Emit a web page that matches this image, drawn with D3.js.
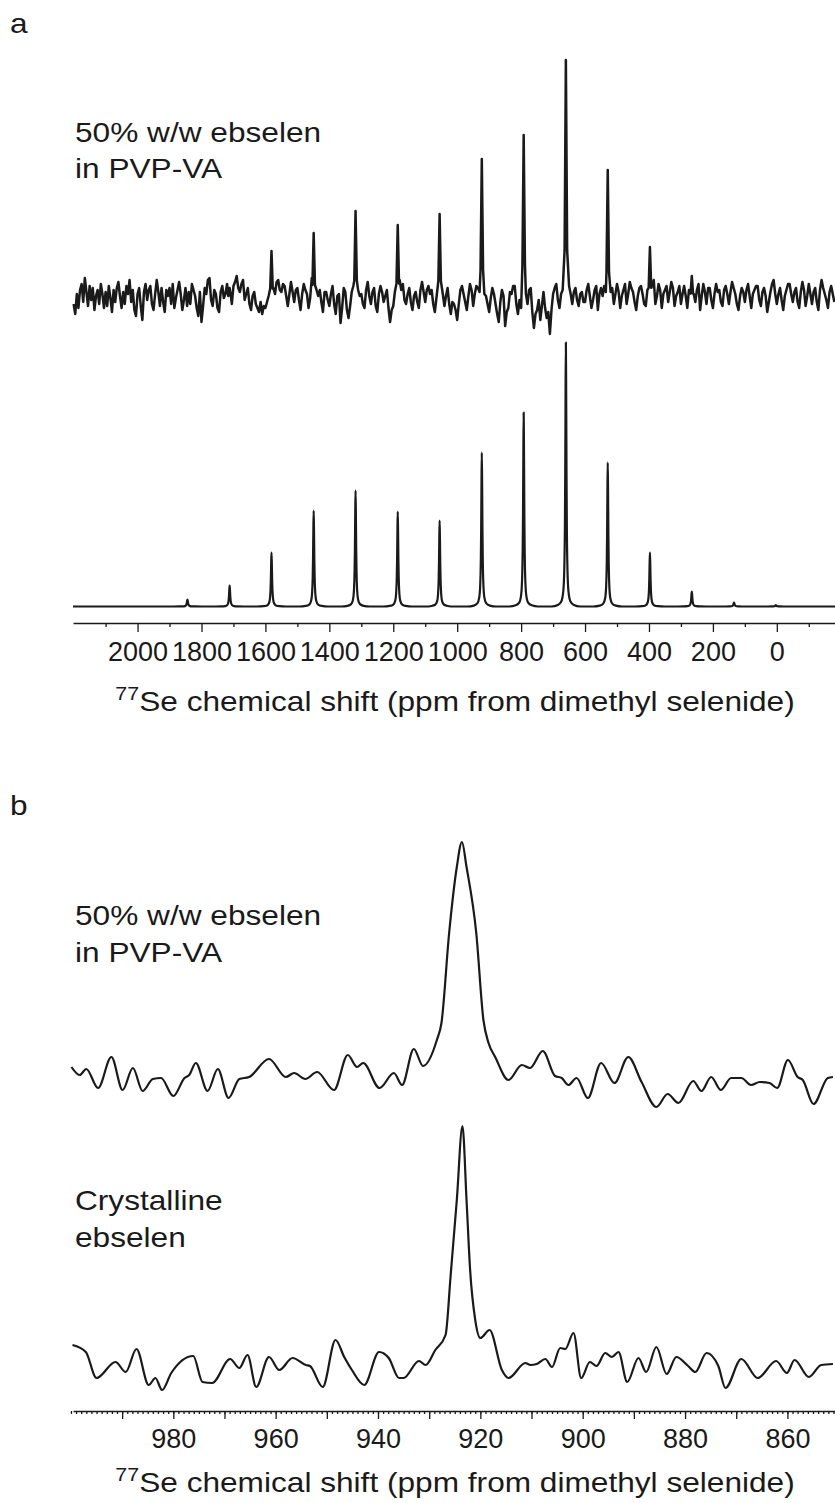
<!DOCTYPE html>
<html>
<head>
<meta charset="utf-8">
<script src="https://cdn.jsdelivr.net/npm/d3@7"></script>
<style>
  html, body { margin: 0; padding: 0; background: #fff; }
  svg { display: block; }
  text { font-family: "Liberation Sans", Arial, Helvetica, sans-serif; fill: #1a1a1a; }
</style>
</head>
<body>
<svg id="fig" width="835" height="1503"></svg>
<script>
// ---- panel a: 77Se MAS spectrum, 50% ebselen in PVP-VA (5 ppm grid, arbitrary units)
const expNoiseStart = 2200;
const expNoiseStep = 5;
const expNoise = [
  -6, -16, 4, -10, 8, 14, -4, 20, 6, -8, 12, -2, 10, -12, 2, 8, -6, 14, 4, -10,
  6, -8, 12, 0, -14, 8, -4, 10, 16, 2, -10, 6, -6, 12, 4, 18, -4, 8, -12, -18,
  4, 10, -8, -22, 6, 14, -2, 8, 12, -6, -12, 4, 18, 6, -8, 10, -4, -14, 8, 2,
  10, -6, 14, -10, 0, 8, 16, 4, -12, -2, 10, -8, 6, -6, 14, 8, 2, -10, -18, 6,
  -24, -8, 10, 4, 18, 20, -2, -8, 8, 4, -10, -14, 6, 12, 0, 4, 14, 18, 2, -6,
  12, 16, 22, 10, 6, 14, 18, -2, 4, 10, -6, -12, 2, 6, -6, -10, -14, -4, -16, -8,
  -10, -4, 2, -8, -6, 10, 4, 16, 18, 8, 6, 14, 12, 2, -8, 4, 16, 6, -4, 8,
  10, -2, -12, 4, 14, 8, 4, -10, 0, 20, 12, -6, 8, 2, 8, -4, -14, 6, 6, -2,
  -8, 4, 12, -6, -16, 2, 4, -25, -10, 10, 6, -12, -20, -8, 6, 12, 14, -4, 8, 2,
  4, -6, -10, 8, 16, 2, -6, 6, 10, -8, -14, 4, 12, 6, -4, 2, 8, -10, -24, -12,
  -8, 6, 12, 18, 18, 8, 14, -2, -6, 4, 10, -4, -12, 2, 6, -4, -10, 8, 16, 6,
  -4, 8, 12, 4, 8, -6, -14, 0, 6, 14, 18, 4, -8, 2, 10, -6, -16, -4, -6, -12,
  -22, -6, 8, 12, 4, -4, -12, 2, 14, 8, -8, 4, 12, 10, 6, -6, -10, 4, 2, -6,
  -14, 0, 10, 4, -6, -16, -24, -4, 8, 2, -28, -14, -10, 6, 4, 12, 12, -6, -16, -2,
  -10, 6, 18, 4, -6, 8, 10, -14, -30, -16, -12, -2, -22, -8, 6, -10, -20, -14, -36, -12,
  4, 10, 14, -2, -10, 4, 8, -6, -16, 2, 12, 4, -6, 6, 10, -2, -8, 4, 6, -4,
  -4, 8, 14, 2, -10, -2, 8, 12, -12, 4, 10, 2, 12, 6, -8, -2, 6, 10, -6, 4,
  14, 6, -10, 2, 8, 14, -6, 4, 16, 10, 6, -4, -12, 2, 10, 12, 4, -6, -8, 8,
  10, 4, 12, 18, -6, 2, 14, 8, -10, 4, 8, 12, -4, 6, 16, 10, -8, 2, 6, 12,
  -6, 4, 12, 2, -10, 8, 22, 14, 4, -4, 8, 14, -12, 2, 14, 6, -6, 10, 10, -2,
  -10, 4, 14, 6, 8, -4, -8, 8, 12, 4, -6, 6, 16, 10, 4, -6, -12, 2, 10, 6,
  -4, 8, 14, 2, -10, 4, 8, 12, 12, -2, -8, 6, 10, 2, -14, -4, 6, 14, 18, 4,
  -6, 4, 10, -2, -12, 2, 8, 14, 14, 4, -4, 6, 10, -4, -10, 6, 16, 8, -8, 2,
  14, 4, -6, 6, 10, -4, -12, 8, 18, 10, 4, -2, -10, 6, 12, 4, -4
];
// spinning sidebands seen in the measured trace [ppm, height]
const expPeaks = [
  [1712, 10], [1581, 47], [1449, 65], [1318, 87], [1186, 73], [1055, 84],
  [923, 139], [792, 163], [660, 238], [529, 128], [397, 51], [266, 22]
];
const expShapeOffsets = [-4, 0, 4];
const expShapeFractions = [0.2, 1, 0.2];

// fitted spectrum sidebands [ppm, height]
const fitPeaks = [
  [1844, 7], [1712, 21], [1581, 54], [1449, 96], [1318, 116], [1186, 95],
  [1055, 86], [923, 154], [792, 194], [660, 264], [529, 144], [397, 54],
  [266, 15], [134, 4], [3, 1.5]
];
const fitShapeOffsets = [-45, -25, -14, -8, -5, -3, -2, -1, 0, 1, 2, 3, 5, 8, 14, 25, 45];
const fitShapeFractions = [0, 0.006, 0.02, 0.059, 0.14, 0.31, 0.5, 0.8, 1, 0.8, 0.5, 0.31, 0.14, 0.059, 0.02, 0.006, 0];

const axisALabels = [2000, 1800, 1600, 1400, 1200, 1000, 800, 600, 400, 200, 0];
const axisAMinor = [2100, 1900, 1700, 1500, 1300, 1100, 900, 700, 500, 300, 100, -100];

// ---- panel b: isotropic region [ppm, intensity]
const pvpTrace = [
  [999.9, 11], [998.3, 3], [997.0, 9], [994.7, -10], [992.1, 21], [989.9, -12],
  [987.9, 10], [986.0, -13], [984.0, -1], [982.4, 0], [980.0, -18], [977.8, 0],
  [976.9, 3], [975.6, 15], [973.3, -13], [971.3, 9], [969.2, -20], [967.1, -1],
  [965.2, 1], [961.3, 19], [958.0, 1], [956.4, 5], [954.2, -1], [951.9, 6],
  [948.6, -12], [945.9, 23], [944.1, 11], [942.9, 15], [939.7, -10], [936.9, 5],
  [935.3, -7], [933.0, 29], [931.2, 12], [928.5, 38], [927.6, 55], [926.1, 145],
  [924.6, 211], [923.6, 236], [922.7, 211], [920.8, 145], [919.4, 58], [918.4, 35],
  [917.1, 21], [914.5, -2], [911.9, 13], [910.3, 10], [907.8, 27], [905.4, 2],
  [904.1, 0], [902.8, -7], [901.2, 0], [899.0, -20], [896.4, 15], [893.8, -5],
  [891.1, 21], [888.5, -4], [885.6, -29], [883.4, -16], [881.3, -25], [878.4, -3],
  [876.8, -13], [874.9, 1], [873.0, -12], [871.0, 0], [869.0, 0], [867.1, -7],
  [865.4, -4], [863.5, -5], [862.0, -10], [859.9, 18], [858.0, 1], [857.0, -2],
  [854.9, -26], [852.1, 0], [851.1, 1]
];
const crystTrace = [
  [999.7, 20], [997.1, 13], [995.0, -13], [991.3, 3], [989.3, -7], [987.2, 16],
  [984.8, -20], [983.5, -13], [982.2, -25], [980.4, -8], [976.1, 9], [974.3, -17],
  [972.4, -18], [968.9, 6], [967.1, -3], [965.5, 10], [963.8, -22], [961.3, 8],
  [959.3, -5], [956.7, 7], [954.1, 0], [953.3, -1], [950.8, -22], [948.3, 25],
  [946.6, 8], [945.1, -5], [942.7, -20], [939.8, 13], [937.9, 7], [935.9, -13],
  [935.0, -13], [932.0, 4], [930.7, 0], [928.8, 15], [926.8, 30], [925.8, 90],
  [924.6, 165], [923.5, 239], [922.7, 165], [922.0, 95], [921.0, 45], [920.0, 27],
  [918.2, 35], [915.8, -5], [914.5, -13], [911.2, 2], [910.2, 0], [909.0, 1],
  [907.3, 6], [906.0, -2], [904.4, 17], [903.4, 16], [901.8, 32], [900.3, -13],
  [898.6, 3], [897.3, -1], [895.6, 12], [894.3, 8], [893.0, 13], [891.3, -17],
  [889.1, 7], [887.6, -7], [885.6, 18], [883.6, -9], [881.7, 8], [879.4, -1],
  [878.0, -7], [875.8, 12], [873.5, -1], [872.1, -23], [869.0, 6], [865.8, -13],
  [862.2, 4], [860.1, -8], [858.6, 5], [855.8, -12], [853.4, 0], [851.1, 1]
];
const axisBLabels = [980, 960, 940, 920, 900, 880, 860];
const axisBMajor = [990, 980, 970, 960, 950, 940, 930, 920, 910, 900, 890, 880, 870, 860];

const svg = d3.select('#fig');
const ink = '#1a1a1a';
const stretch = 1.13; // figure text is drawn a little wider than Arial

// x scales (plot spans x 73..835)
const xA = d3.scaleLinear().domain([2202, -182]).range([73, 835]);
const xB = d3.scaleLinear().domain([999.6, 850.7]).range([73, 835]);

const yExp = d3.scaleLinear().domain([0, 238]).range([298, 60]);
const yFit = d3.scaleLinear().domain([0, 264]).range([606.5, 342.5]);
const yPvp = d3.scaleLinear().domain([0, 236]).range([1078, 842]);
const yCryst = d3.scaleLinear().domain([0, 239]).range([1365, 1126]);

function shapePoints(peaks, offsets, fractions) {
  return peaks.flatMap(([p, h]) => offsets.map((o, k) => [p + o, h * fractions[k]]));
}

// measured trace: noise grid, with the sideband spikes dropped in
const expGrid = expNoise.map((v, i) => [expNoiseStart - i * expNoiseStep, v])
  .filter(([p]) => !expPeaks.some(([q]) => Math.abs(p - q) < 6));
const expPts = expGrid.concat(shapePoints(expPeaks, expShapeOffsets, expShapeFractions))
  .sort((a, b) => b[0] - a[0]);

const fitPts = [[2202, 0]].concat(shapePoints(fitPeaks, fitShapeOffsets, fitShapeFractions), [[-182, 0]])
  .sort((a, b) => b[0] - a[0]);

function drawTrace(pts, x, y, curve, w) {
  svg.append('path')
    .datum(pts)
    .attr('fill', 'none')
    .attr('stroke', ink)
    .attr('stroke-width', w)
    .attr('stroke-linejoin', 'round')
    .attr('d', d3.line().x(d => x(d[0])).y(d => y(d[1])).curve(curve));
}

drawTrace(expPts, xA, yExp, d3.curveLinear, 2.5);
drawTrace(fitPts, xA, yFit, d3.curveMonotoneX, 2.2);
drawTrace(pvpTrace.slice().sort((a, b) => b[0] - a[0]), xB, yPvp, d3.curveMonotoneX, 2.2);
drawTrace(crystTrace.slice().sort((a, b) => b[0] - a[0]), xB, yCryst, d3.curveMonotoneX, 2.2);

function drawAxis(x, y0, majors, labels, minors, majorLen, minorLen, fontSize) {
  const g = svg.append('g').attr('transform', `translate(0,${y0})`);
  g.append('g')
    .call(d3.axisBottom(x).tickValues(minors).tickSize(minorLen).tickSizeOuter(0).tickFormat(''))
    .call(s => s.select('.domain').remove());
  const lab = new Set(labels);
  const ax = g.append('g')
    .call(d3.axisBottom(x).tickValues(majors).tickSize(majorLen).tickSizeOuter(0)
      .tickPadding(10).tickFormat(d => lab.has(d) ? d : ''));
  ax.select('.domain').attr('stroke', ink).attr('stroke-width', 1.5);
  g.selectAll('line').attr('stroke', ink).attr('stroke-width', 1.3);
  ax.selectAll('text').attr('font-size', fontSize).attr('fill', ink)
    .style('font-family', '"Liberation Sans", Arial, sans-serif');
}

drawAxis(xA, 623, axisALabels, axisALabels, axisAMinor, 9, 4, 27);
drawAxis(xB, 1411, axisBMajor, axisBLabels, d3.range(1000, 850, -1), 8, 3, 27);

function addText(x, y, str, size) {
  svg.append('text')
    .attr('transform', `translate(${x},${y}) scale(${stretch},1)`)
    .attr('font-size', size).text(str);
}

function addTitle(y) {
  const t = svg.append('text')
    .attr('transform', `translate(455,${y}) scale(${stretch},1)`)
    .attr('text-anchor', 'middle').attr('font-size', 28);
  t.append('tspan').attr('font-size', 19).attr('dy', -11).text('77');
  t.append('tspan').attr('dy', 11).text('Se chemical shift (ppm from dimethyl selenide)');
}

addText(10, 33, 'a', 28);
addText(75, 142, '50% w/w ebselen', 28);
addText(75, 178, 'in PVP-VA', 28);
addTitle(711);

addText(10, 815, 'b', 28);
addText(75, 925, '50% w/w ebselen', 28);
addText(75, 962, 'in PVP-VA', 28);
addText(75, 1210, 'Crystalline', 28);
addText(75, 1247, 'ebselen', 28);
addTitle(1492);
</script>
</body>
</html>
